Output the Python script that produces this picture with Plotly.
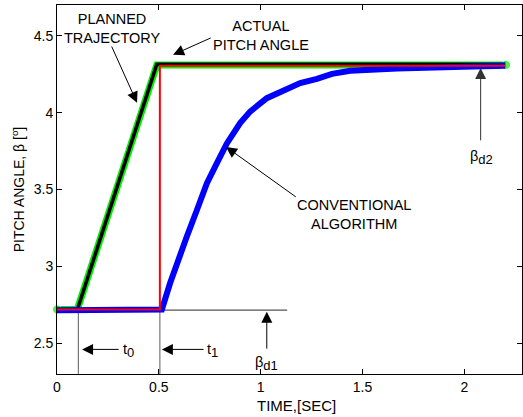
import plotly.graph_objects as go

# Planned trajectory (green)
planned_t = [0.0, 0.10, 0.49, 2.205]
planned_b = [2.72, 2.72, 4.31, 4.31]

# Actual pitch angle (black)
actual_t = [0.0, 0.10, 0.49, 2.20]
actual_b = [2.72, 2.72, 4.315, 4.315]

# Conventional algorithm (blue)
conv_t = [0.0, 0.515, 0.555, 0.588, 0.637, 0.687, 0.736, 0.785, 0.834, 0.899, 0.948,
          1.03, 1.112, 1.194, 1.276, 1.35, 1.44, 1.67, 2.04, 2.20]
conv_b = [2.715, 2.72, 2.89, 3.02, 3.193, 3.367, 3.541, 3.671, 3.80, 3.932, 4.007,
          4.094, 4.148, 4.192, 4.22, 4.252, 4.272, 4.287, 4.30, 4.305]

# Desired step (red)
step_t = [0.0, 0.505, 0.505, 2.20]
step_b = [2.72, 2.72, 4.305, 4.305]

# Guide lines (gray)
t0_t = [0.105, 0.105]
t0_b = [2.3, 2.72]
t1_t = [0.505, 0.505]
t1_b = [2.3, 2.72]
bd1_t = [0.505, 1.13]
bd1_b = [2.715, 2.715]

xticks = [0, 0.5, 1, 1.5, 2]
yticks = [2.5, 3, 3.5, 4, 4.5]

FONT = "Liberation Sans, Arial, sans-serif"

fig = go.Figure()
fig.add_trace(go.Scatter(x=t0_t, y=t0_b, mode="lines", line=dict(color="#777777", width=1.2)))
fig.add_trace(go.Scatter(x=t1_t, y=t1_b, mode="lines", line=dict(color="#777777", width=1.2)))
fig.add_trace(go.Scatter(x=bd1_t, y=bd1_b, mode="lines", line=dict(color="#555555", width=1.2)))
fig.add_trace(go.Scatter(x=planned_t, y=planned_b, mode="lines+markers",
                         line=dict(color="#00ee00", width=7),
                         marker=dict(color="#00ee00", size=[9, 0, 0, 9]),
                         cliponaxis=False))
fig.add_trace(go.Scatter(x=actual_t, y=actual_b, mode="lines", line=dict(color="black", width=3.5)))
fig.add_trace(go.Scatter(x=conv_t, y=conv_b, mode="lines", line=dict(color="#0000ff", width=6)))
fig.add_trace(go.Scatter(x=step_t, y=step_b, mode="lines", line=dict(color="#ff0000", width=2)))

ann = []
def arrow(hx, hy, tx, ty, color="black"):
    ann.append(dict(x=hx, y=hy, ax=tx, ay=ty, xref="x", yref="y", axref="x", ayref="y",
                    showarrow=True, arrowhead=2, arrowsize=2.2, arrowwidth=1, arrowcolor=color, text=""))

def label(x, y, text, xanchor="center", size=14.5):
    ann.append(dict(x=x, y=y, xref="x", yref="y", text=text, showarrow=False,
                    xanchor=xanchor, yanchor="middle", font=dict(family=FONT, size=size, color="black")))

def sub(s):
    return '<sub><span style="font-size:13px">' + s + '</span></sub>'

label(0.27, 4.55, "PLANNED<br>TRAJECTORY")
arrow(0.393, 4.064, 0.265, 4.44)
label(1.0, 4.5, "ACTUAL<br>PITCH ANGLE")
arrow(0.57, 4.376, 0.762, 4.49)
label(1.46, 3.335, "CONVENTIONAL<br>ALGORITHM")
arrow(0.83, 3.777, 1.18, 3.445)
arrow(0.123, 2.46, 0.31, 2.46)
label(0.312, 2.45, "t" + sub("0"), xanchor="left")
arrow(0.515, 2.46, 0.727, 2.46)
label(0.729, 2.45, "t" + sub("1"), xanchor="left")
arrow(1.03, 2.705, 1.03, 2.455)
label(1.03, 2.37, "β" + sub("d1"))
arrow(2.08, 4.29, 2.08, 3.81, color="#333333")
label(2.085, 3.71, "β" + sub("d2"))
ann.append(dict(x=1.175, y=0, xref="x", yref="paper", yanchor="middle", yshift=-31,
                text="TIME,[SEC]", showarrow=False, font=dict(family=FONT, size=15, color="black")))

fig.update_layout(
    width=523, height=417, margin=dict(l=57, r=1, t=5, b=43),
    paper_bgcolor="white", plot_bgcolor="white", showlegend=False,
    font=dict(family=FONT, size=14, color="black"),
    annotations=ann,
    xaxis=dict(range=[0, 2.283], tickvals=xticks, ticktext=[str(v) for v in xticks],
               ticks="inside", ticklen=5, tickcolor="black", showline=True, linecolor="black",
               linewidth=1, mirror="ticks", showgrid=False, zeroline=False,
               tickfont=dict(family=FONT, size=14)),
    yaxis=dict(range=[2.3, 4.7], tickvals=yticks, ticktext=[str(v) for v in yticks],
               ticks="inside", ticklen=5, tickcolor="black", showline=True, linecolor="black",
               linewidth=1, mirror="ticks", showgrid=False, zeroline=False,
               tickfont=dict(family=FONT, size=14),
               title=dict(text="PITCH ANGLE, β [<sup>o</sup>]", font=dict(family=FONT, size=14), standoff=5)),
)
fig.write_html("out.html")
